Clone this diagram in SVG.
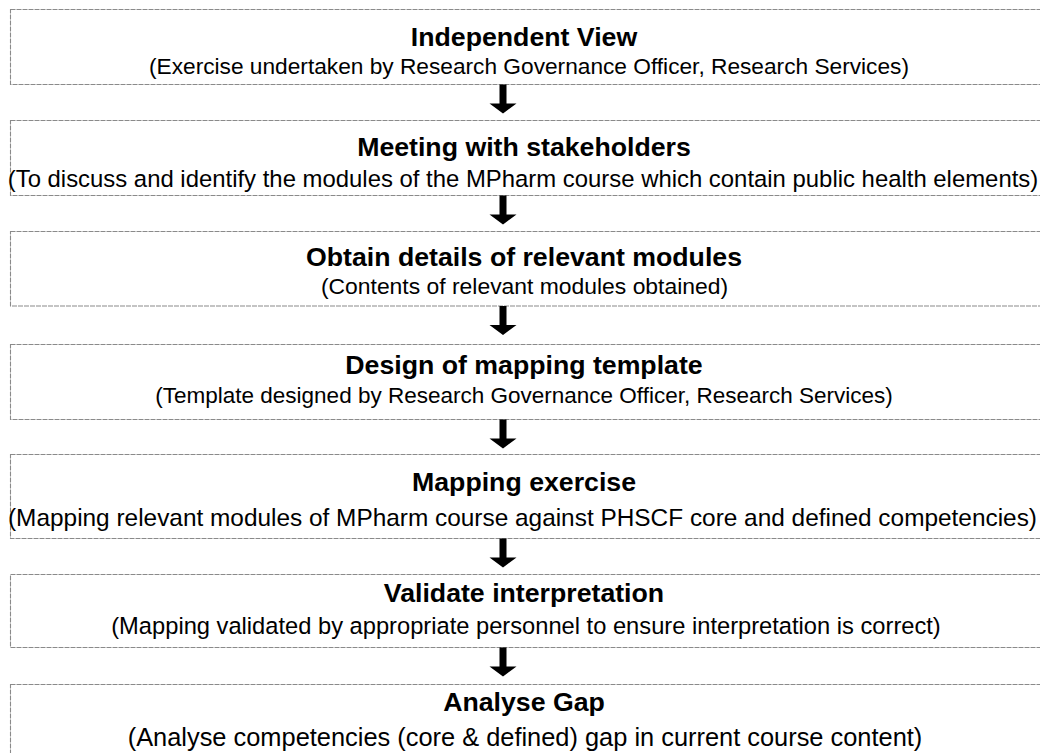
<svg xmlns="http://www.w3.org/2000/svg" width="1040" height="753" viewBox="0 0 1040 753">
<style>
.box{fill:#fff;stroke:#8a8a8a;stroke-width:1.1;stroke-dasharray:5 1}
.t{font-family:"Liberation Sans",Arial,sans-serif;font-weight:bold;font-size:26.7px;text-anchor:middle;fill:#000}
.s{font-family:"Liberation Sans",Arial,sans-serif;font-size:22.5px;text-anchor:middle;fill:#000}
.arr{fill:#000}
</style>
<defs>
<path id="arrow" d="M-3.5,0 H3.5 V19 H13.5 L0,29 L-13.5,19 H-3.5 Z"/>
</defs>
<rect width="1040" height="753" fill="#fff"/>
<g id="n1"><rect class="box" x="10.5" y="9.5" width="1040" height="75"/>
<text class="t" x="524" y="45.5">Independent View</text>
<text class="s" x="529" y="73.5" style="font-size:22.7px">(Exercise undertaken by Research Governance Officer, Research Services)</text></g>
<g id="n2"><rect class="box" x="10.5" y="120.5" width="1040" height="75"/>
<text class="t" x="524" y="155.5">Meeting with stakeholders</text>
<text class="s" x="523" y="187" style="font-size:23.9px">(To discuss and identify the modules of the MPharm course which contain public health elements)</text></g>
<g id="n3"><rect class="box" x="10.5" y="231.5" width="1040" height="74.5"/>
<text class="t" x="524" y="265.5">Obtain details of relevant modules</text>
<text class="s" x="524.5" y="293.5" style="font-size:22.9px">(Contents of relevant modules obtained)</text></g>
<g id="n4"><rect class="box" x="10.5" y="344.5" width="1040" height="75"/>
<text class="t" x="524" y="373.5">Design of mapping template</text>
<text class="s" x="524" y="402.5">(Template designed by Research Governance Officer, Research Services)</text></g>
<g id="n5"><rect class="box" x="10.5" y="454.5" width="1040" height="84"/>
<text class="t" x="524" y="490.5">Mapping exercise</text>
<text class="s" x="522.5" y="526" style="font-size:24.4px">(Mapping relevant modules of MPharm course against PHSCF core and defined competencies)</text></g>
<g id="n6"><rect class="box" x="10.5" y="574.5" width="1040" height="73"/>
<text class="t" x="524" y="601.5">Validate interpretation</text>
<text class="s" x="526" y="634" style="font-size:23.7px">(Mapping validated by appropriate personnel to ensure interpretation is correct)</text></g>
<g id="n7"><rect class="box" x="10.5" y="684.5" width="1040" height="90"/>
<text class="t" x="524" y="710.5">Analyse Gap</text>
<text class="s" x="525" y="746" style="font-size:25.4px">(Analyse competencies (core &amp; defined) gap in current course content)</text></g>
<g id="connectors" class="arr">
<use href="#arrow" x="503" y="84.5"/>
<use href="#arrow" x="503" y="195.5"/>
<use href="#arrow" x="503" y="306"/>
<use href="#arrow" x="503" y="419.5"/>
<use href="#arrow" x="503" y="538.5"/>
<use href="#arrow" x="503" y="647.5"/>
</g>
</svg>
